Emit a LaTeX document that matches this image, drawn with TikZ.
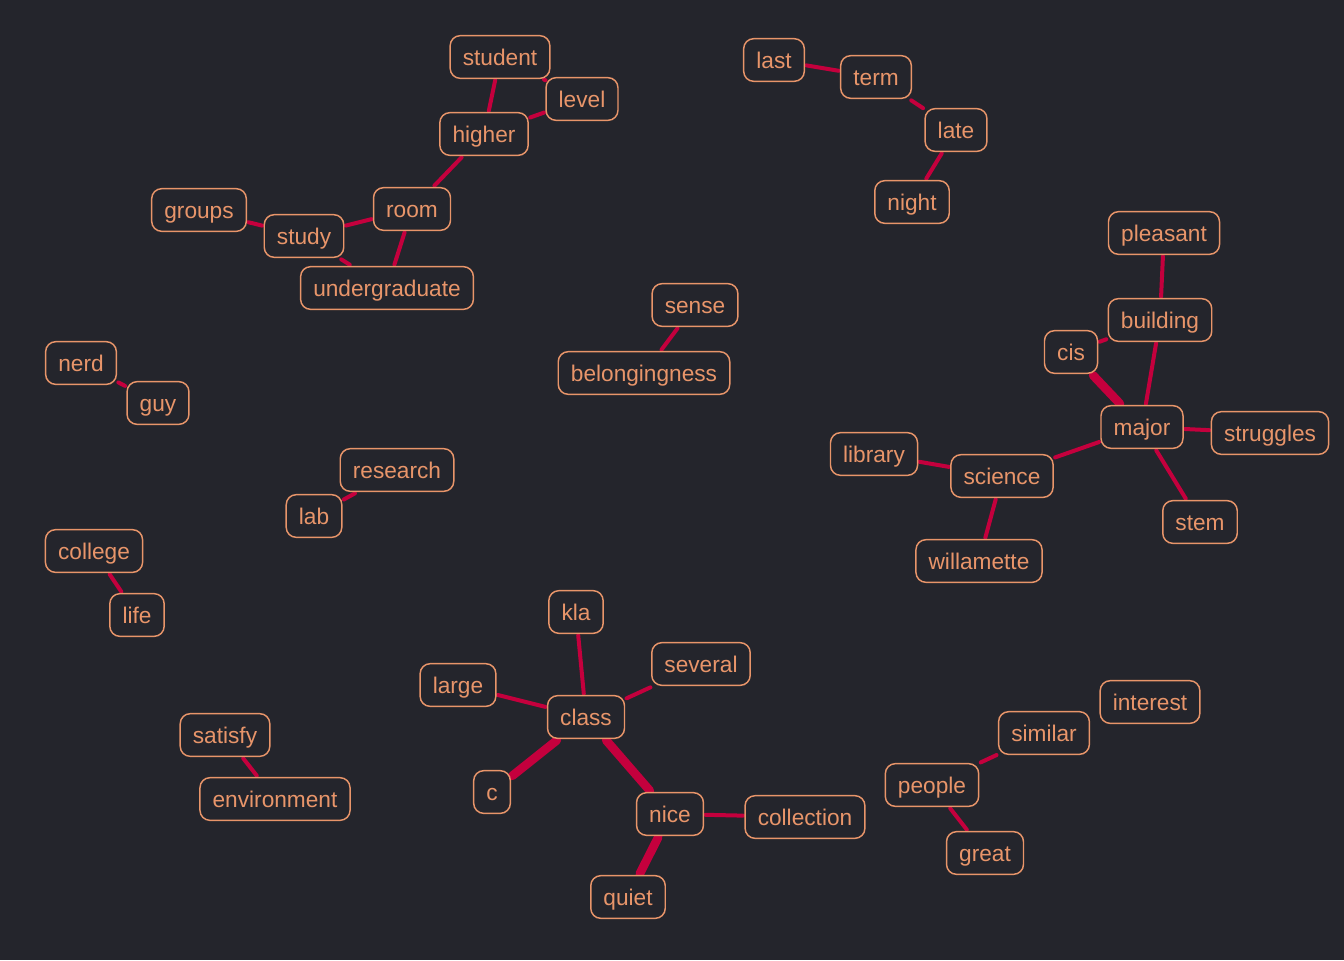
\documentclass[tikz,border=0pt]{standalone}
\usepackage{fontspec}
\setmainfont{Liberation Sans}
\usetikzlibrary{backgrounds}
\definecolor{bg}{HTML}{24252C}
\definecolor{peach}{HTML}{E8956A}
\definecolor{crimson}{HTML}{C4003D}
\begin{document}
\begin{tikzpicture}[x=0.75pt,y=-0.75pt,
  word/.style={draw=peach,text=peach,fill=bg,line width=1.1pt,rounded corners=7.5pt,
    minimum height=32pt,inner xsep=9.5pt,text height=12.8pt,text depth=0pt,
    font=\fontsize{17}{20}\selectfont,outer sep=1.5pt},
  link/.style={draw=crimson,line width=3pt,line cap=round},
  heavy/.style={draw=crimson,line width=6.5pt,line cap=round}]
\useasboundingbox (0,0) rectangle (1344,960);

\begin{scope}[every node/.style={word}]
\node (student) at (500,57) {student};
\node (level) at (582,99) {level};
\node (higher) at (484,134) {higher};
\node (room) at (412,209) {room};
\node (groups) at (199,210) {groups};
\node (study) at (304,236) {study};
\node (undergraduate) at (387,288) {undergraduate};
\node (last) at (774,60) {last};
\node (term) at (876,77) {term};
\node (late) at (956,130) {late};
\node (night) at (912,202) {night};
\node (pleasant) at (1164,233) {pleasant};
\node (building) at (1160,320) {building};
\node (cis) at (1071,352) {cis};
\node (major) at (1142,427) {major};
\node (struggles) at (1270,433) {struggles};
\node (library) at (874,454) {library};
\node (science) at (1002,476) {science};
\node (stem) at (1200,522) {stem};
\node (willamette) at (979,561) {willamette};
\node (sense) at (695,305) {sense};
\node (belongingness) at (644,373) {belongingness};
\node (nerd) at (81,363) {nerd};
\node (guy) at (158,403) {guy};
\node (research) at (397,470) {research};
\node (lab) at (314,516) {lab};
\node (college) at (94,551) {college};
\node (life) at (137,615) {life};
\node (kla) at (576,612) {kla};
\node (several) at (701,664) {several};
\node (large) at (458,685) {large};
\node (class) at (586,717) {class};
\node (c) at (492,792) {c};
\node (nice) at (670,814) {nice};
\node (collection) at (805,817) {collection};
\node (quiet) at (628,897) {quiet};
\node (satisfy) at (225,735) {satisfy};
\node (environment) at (275,799) {environment};
\node (interest) at (1150,702) {interest};
\node (similar) at (1044,733) {similar};
\node (people) at (932,785) {people};
\node (great) at (985,853) {great};
\end{scope}

\begin{scope}[on background layer]
\fill[bg] (0,0) rectangle (1344,960);
\path[link] (student) edge (higher) (student) edge (level) (level) edge (higher)
  (higher) edge (room) (room) edge (study) (room) edge (undergraduate)
  (groups) edge (study) (study) edge (undergraduate);
\path[link] (last) edge (term) (term) edge (late) (late) edge (night);
\path[link] (pleasant) edge (building) (building) edge (major) (cis) edge (building)
  (major) edge (struggles) (major) edge (science) (major) edge (stem)
  (science) edge (library) (science) edge (willamette);
\path[heavy] (cis) edge (major);
\path[link] (sense) edge (belongingness) (nerd) edge (guy) (research) edge (lab)
  (college) edge (life) (satisfy) edge (environment);
\path[link] (kla) edge (class) (several) edge (class) (large) edge (class)
  (nice) edge (collection);
\path[heavy] (class) edge (c) (class) edge (nice) (nice) edge (quiet);
\path[link] (similar) edge (people) (people) edge (great);
\end{scope}
\end{tikzpicture}
\end{document}
